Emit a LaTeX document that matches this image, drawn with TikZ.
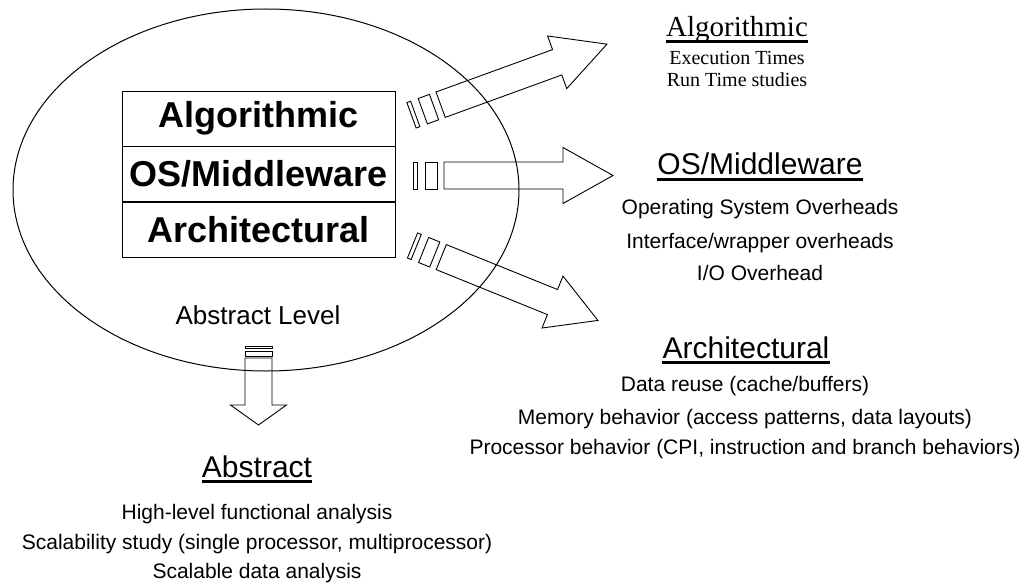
\documentclass[tikz,border=0pt]{standalone}
\usepackage{fontspec}
\setmainfont{Liberation Sans}
\newfontfamily\timesfont{Liberation Serif}
\usetikzlibrary{positioning}

% hollow block arrow with two loose bars at its tail
% #1 start, #2 angle, #3 end of bar 1, #4-#5 bar 2, #6 shaft start, #7 head start, #8 tip
\newcommand{\levelarrow}[8]{%
  \begin{scope}[shift={#1}, rotate=#2]
    \draw[blk] (0,-13.5) rectangle (#3,13.5);
    \draw[blk] (#4,-13.5) rectangle (#5,13.5);
    \draw[blk] (#6,-13.5) -- (#7,-13.5) -- (#7,-28) -- (#8,0)
      -- (#7,28) -- (#7,13.5) -- (#6,13.5) -- cycle;
  \end{scope}}

\begin{document}
\begin{tikzpicture}[
     x=1pt, y=-1pt,
     % define styles
     level/.style={
         draw,
         line width=0.8pt,
         minimum width=273pt,
         minimum height=55pt,
         inner sep=0pt,
         font={\fontsize{36}{40}\selectfont\bfseries}
     },
     heading/.style={
         anchor=base,
         inner sep=0pt,
         font={\fontsize{30}{34}\selectfont}
     },
     item/.style={
         anchor=base,
         inner sep=0pt,
         font={\fontsize{21}{24}\selectfont}
     },
     uline/.style={line width=3pt},
     blk/.style={line width=0.9pt, line join=miter}
]
\useasboundingbox (0,0) rectangle (1025,583);

% abstract level
\draw[line width=1pt] (266,190) ellipse [x radius=253pt, y radius=181pt];

% the three levels
\node[level] (alg) at (258.5,118.5) {Algorithmic};
\node[level, below=0pt of alg] (os) {OS/Middleware};
\node[level, below=0pt of os] (arch) {Architectural};
\node[anchor=base, inner sep=0pt, font={\fontsize{26}{30}\selectfont}] (abslevel) at (258,324) {Abstract Level};

% arrows out of the ellipse
\levelarrow{(411.5,115.3)}{20}{4}{12}{24}{31}{155}{208}
\levelarrow{(413,175.5)}{0}{4}{12}{24}{31}{150}{200}
\levelarrow{(412.5,245.5)}{-22}{4}{12}{24}{31}{151}{200}
\levelarrow{(258.5,346)}{-90}{2}{5}{10}{12}{59}{79}

% algorithmic
\node[heading, font={\timesfont\fontsize{29}{32}\selectfont}] (halg) at (737,37) {Algorithmic};
\node[item, font={\timesfont\fontsize{20}{23}\selectfont}] (alg1) at (737,65) {Execution Times};
\node[item, font={\timesfont\fontsize{20}{23}\selectfont}] (alg2) at (737,87) {Run Time studies};
\draw[uline] ([yshift=-4.5pt]halg.base west) -- ([yshift=-4.5pt]halg.base east);

% os/middleware
\node[heading] (hos) at (760,175) {OS/Middleware};
\node[item] (os1) at (760,214) {Operating System Overheads};
\node[item] (os2) at (760,248) {Interface/wrapper overheads};
\node[item] (os3) at (760,280) {I/O Overhead};
\draw[uline] ([yshift=-4.5pt]hos.base west) -- ([yshift=-4.5pt]hos.base east);

% architectural
\node[heading] (harch) at (746,358) {Architectural};
\node[item] (arch1) at (745,391) {Data reuse (cache/buffers)};
\node[item] (arch2) at (745,424) {Memory behavior (access patterns, data layouts)};
\node[item] (arch3) at (745,454) {Processor behavior (CPI, instruction and branch behaviors)};
\draw[uline] ([yshift=-4.5pt]harch.base west) -- ([yshift=-4.5pt]harch.base east);

% abstract
\node[heading] (habs) at (257,477) {Abstract};
\node[item] (abs1) at (257,519) {High-level functional analysis};
\node[item] (abs2) at (257,549) {Scalability study (single processor, multiprocessor)};
\node[item] (abs3) at (257,578) {Scalable data analysis};
\draw[uline] ([yshift=-4.5pt]habs.base west) -- ([yshift=-4.5pt]habs.base east);
\end{tikzpicture}
\end{document}
